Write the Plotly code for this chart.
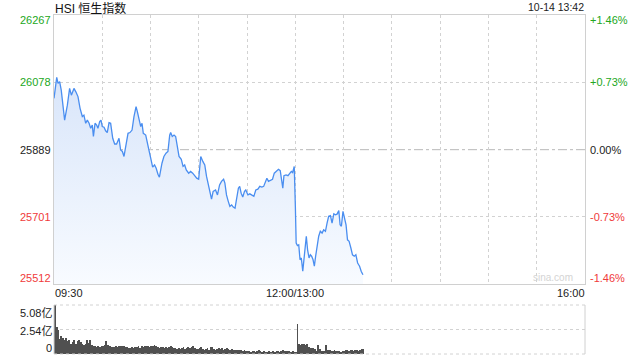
import plotly.graph_objects as go

# ---------------- data ----------------
prev_close = 25889
price_minutes = [
    0.0, 1.7, 2.5, 3.5, 4.5, 6.6, 8.3, 9.7, 10.8, 12.4, 13.5, 14.9, 16.2, 17.6, 18.6,
    19.7, 20.7, 21.8, 22.8, 23.8, 24.5, 25.5, 26.5, 27.3, 28.4, 29.2, 30.0, 31.1, 32.1,
    33.1, 34.2, 35.2, 36.5, 37.7, 38.9, 40.4, 41.4, 42.5, 43.5, 44.5, 46.0, 47.2, 48.5,
    49.7, 51.0, 51.8, 52.8, 53.9, 54.7, 55.5, 57.0, 58.0, 59.0, 60.1, 61.3, 62.5, 63.5,
    64.6, 65.5, 67.1, 68.3, 69.6, 70.8, 71.9, 72.5, 73.5, 74.6, 75.6, 76.6, 77.7, 79.1,
    80.2, 81.2, 82.2, 83.7, 84.9, 86.2, 87.4, 88.7, 89.9, 91.2, 92.5, 93.7, 94.8, 95.8,
    96.9, 97.9, 98.9, 100.4, 101.6, 102.9, 104.1, 105.4, 106.2, 107.2, 108.3, 109.3,
    110.4, 111.4, 112.5, 113.5, 114.6, 115.4, 116.3, 117.3, 118.4, 119.2, 120.5, 121.7,
    123.0, 124.2, 125.4, 126.7, 127.9, 129.2, 130.3, 131.3, 132.3, 133.3, 134.6, 135.8,
    136.9, 138.1, 139.5, 140.6, 141.3, 142.2, 142.9, 144.2, 145.4, 146.7, 147.5, 148.3,
    149.3, 150.0, 150.5, 151.3, 152.1, 152.9, 153.7, 154.6, 155.4, 156.2, 156.8, 157.6,
    158.5, 159.3, 160.1, 161.0, 161.8, 162.6, 163.5, 164.5, 165.5, 166.6, 167.6, 168.7,
    169.7, 170.7, 171.8, 172.8, 173.9, 174.9, 175.9, 177.0, 177.8, 178.6, 179.6, 180.7,
    181.5, 182.4, 183.4, 184.5, 185.5, 186.6, 187.6, 188.7, 189.9, 190.9, 192.0,
]
prices = [
    26033, 26092, 26075, 26080, 26056, 25972, 26014, 26061, 26042, 26061, 26052, 26038, 26005, 25982, 25986,
    25963, 25972, 25963, 25949, 25958, 25926, 25963, 25958, 25949, 25968, 25972, 25954, 25952, 25942,
    25937, 25965, 25963, 25921, 25905, 25905, 25921, 25888, 25884, 25870, 25898, 25935, 25937, 25944,
    25982, 26010, 25996, 25977, 25954, 25963, 25935, 25930, 25912, 25888, 25865, 25840, 25846, 25837,
    25820, 25812, 25851, 25870, 25879, 25884, 25930, 25937, 25926, 25930, 25926, 25898, 25870, 25862,
    25842, 25846, 25832, 25823, 25828, 25823, 25816, 25809, 25806, 25870, 25856, 25846, 25814, 25790,
    25772, 25750, 25772, 25776, 25762, 25790, 25800, 25806, 25795, 25762, 25744, 25730,
    25734, 25728, 25725, 25758, 25781, 25786, 25767, 25756, 25772, 25776, 25762, 25765,
    25762, 25758, 25776, 25778, 25786, 25784, 25786, 25800, 25809, 25800, 25804, 25806,
    25823, 25828, 25834, 25830, 25809, 25781, 25816, 25818, 25816, 25823, 25828, 25825,
    25842, 25730, 25627, 25620, 25622, 25580, 25585, 25548, 25580, 25618, 25646, 25608,
    25585, 25594, 25590, 25580, 25562, 25590, 25618, 25646, 25660, 25655, 25664, 25660,
    25683, 25702, 25704, 25683, 25709, 25706, 25708, 25718, 25678, 25674, 25716, 25688,
    25678, 25636, 25632, 25613, 25594, 25590, 25594, 25571, 25562, 25548, 25538,
]
volumes = [  # 亿
    5.08, 2.85, 2.44, 1.55, 1.82, 1.65, 1.48, 1.65, 1.30, 1.40, 1.07, 1.20, 1.48, 1.07, 1.30,
    1.48, 1.20, 1.07, 0.96, 1.03, 1.40, 1.13, 1.40, 0.96, 0.86, 0.79, 0.69, 0.79, 0.72, 0.86,
    0.79, 0.96, 1.30, 0.96, 0.79, 0.72, 0.69, 0.69, 0.79, 0.72, 0.86, 0.79, 0.86, 0.79, 0.69,
    0.69, 0.62, 0.62, 0.69, 0.62, 0.72, 0.69, 0.79, 0.62, 0.79, 0.72, 0.79, 0.86, 0.79, 0.69,
    0.86, 0.79, 0.96, 0.79, 0.69, 0.62, 0.72, 0.69, 0.58, 0.69, 0.62, 0.72, 0.86, 0.72, 0.62,
    0.58, 0.52, 0.62, 0.55, 0.62, 0.69, 0.52, 0.62, 0.69, 0.62, 0.69, 0.79, 0.58, 0.52, 0.52,
    0.58, 0.69, 0.52, 0.45, 0.52, 0.62, 0.45, 0.69, 0.76, 0.52, 0.45, 0.52, 0.62, 0.52, 0.58,
    0.45, 0.52, 0.58, 0.52, 0.45, 0.52, 0.45, 0.38, 0.45, 0.38, 0.45, 0.38, 0.27, 0.38, 0.27,
    0.34, 0.27, 0.24, 0.34, 0.27, 0.24, 0.31, 0.38, 0.27, 0.21, 0.27, 0.21, 0.24, 0.27, 0.21,
    0.24, 0.27, 0.21, 0.27, 0.31, 0.24, 0.31, 0.38, 0.27, 0.34, 0.27, 0.34, 0.24, 0.27, 0.21,
    0.17, 3.13, 1.07, 0.96, 1.03, 1.03, 0.96, 1.07, 0.69, 0.62, 0.62, 0.62, 0.52, 0.34, 0.96,
    0.52, 0.34, 0.34, 0.34, 0.96, 0.45, 0.38, 0.34, 0.34, 0.38, 0.27, 0.34, 0.27, 0.24, 0.27,
    0.34, 0.38, 0.45, 0.27, 0.38, 0.45, 0.34, 0.38, 0.45, 0.34, 0.45, 0.52, 0.52,
]
volume_minutes = list(range(len(volumes)))

price_ticks = [26267, 26078, 25889, 25701, 25512]
pct_labels = ["+1.46%", "+0.73%", "0.00%", "-0.73%", "-1.46%"]
label_colors = ["#22a722", "#22a722", "#222222", "#f03a3a", "#f03a3a"]
vol_ticks = [5.08, 2.54, 0]
vol_labels = ["5.08亿", "2.54亿", "0"]
x_tick_minutes = [0, 150, 330]
x_tick_labels = ["09:30", "12:00/13:00", "16:00"]
grid_minutes = [30, 60, 90, 120, 150, 180, 210, 240, 270, 300]
title_text = "HSI 恒生指数"
date_text = "10-14 13:42"

FONT = "Arial, 'Liberation Sans', 'Noto Sans CJK SC', sans-serif"
GRID = "#d2d2d2"
BORDER = "#d0d0d0"

fig = go.Figure()
fig.add_trace(go.Scatter(
    x=price_minutes, y=prices, mode="lines",
    line=dict(color="#4a8ef0", width=1.3),
    fill="tozeroy",
    fillgradient=dict(type="vertical", start=price_ticks[-1], stop=26100,
                      colorscale=[[0, "#f8fbff"], [1, "#d8e5fa"]]),
    xaxis="x", yaxis="y", hoverinfo="skip", showlegend=False,
))
fig.add_trace(go.Bar(
    x=volume_minutes, y=volumes, width=0.55,
    marker=dict(color="#505050", line=dict(width=0)),
    xaxis="x2", yaxis="y2", hoverinfo="skip", showlegend=False,
))

fig.update_layout(
    width=640, height=360,
    margin=dict(l=54, r=55, t=15, b=6),
    paper_bgcolor="white", plot_bgcolor="white",
    font=dict(family=FONT, size=11, color="#222"),
    xaxis=dict(domain=[0, 1], range=[0, 330], anchor="y",
               tickvals=grid_minutes, showticklabels=False, ticks="",
               showgrid=True, gridcolor=GRID, griddash="dot", gridwidth=1,
               showline=True, mirror=True, linecolor=BORDER, linewidth=1,
               zeroline=False, fixedrange=True),
    yaxis=dict(domain=[0.2065, 1], range=[price_ticks[-1], price_ticks[0]], anchor="x",
               tickvals=[price_ticks[1], price_ticks[3]], showticklabels=False, ticks="",
               showgrid=True, gridcolor=GRID, griddash="dot", gridwidth=1,
               showline=True, mirror=True, linecolor=BORDER, linewidth=1,
               zeroline=False, fixedrange=True),
    xaxis2=dict(domain=[0, 1], range=[-0.6, 330], anchor="y2",
                showticklabels=False, ticks="", showgrid=False,
                showline=False, zeroline=False, fixedrange=True),
    yaxis2=dict(domain=[0, 0.1445], range=[0, vol_ticks[0]], anchor="x2",
                tickvals=[vol_ticks[1]], showticklabels=False, ticks="",
                showgrid=True, gridcolor=GRID, griddash="dot", gridwidth=1,
                showline=False, zeroline=False, fixedrange=True),
    bargap=0,
)

shapes = [
    # previous-close reference line
    dict(type="line", xref="x domain", yref="y", x0=0, x1=1, y0=prev_close, y1=prev_close,
         line=dict(color="#b8b8b8", width=1, dash="dashdot"), layer="below"),
    # volume panel frame
    dict(type="line", xref="x2 domain", yref="y2 domain", x0=0, x1=1, y0=1, y1=1,
         line=dict(color=GRID, width=1, dash="dot")),
    dict(type="line", xref="x2 domain", yref="y2 domain", x0=0, x1=1, y0=0, y1=0,
         line=dict(color=GRID, width=1, dash="dot")),
    dict(type="line", xref="x2 domain", yref="y2 domain", x0=0, x1=0, y0=0, y1=1,
         line=dict(color=BORDER, width=1)),
    dict(type="line", xref="x2 domain", yref="y2 domain", x0=1, x1=1, y0=0, y1=1,
         line=dict(color=BORDER, width=1)),
]
fig.update_layout(shapes=shapes)

ann = []
ann.append(dict(text=title_text, xref="paper", yref="paper", x=0, y=1, xanchor="left",
                yanchor="middle", xshift=-1, yshift=7, showarrow=False,
                font=dict(size=12, color="#111")))
ann.append(dict(text=date_text, xref="paper", yref="paper", x=1, y=1, xanchor="right",
                yanchor="middle", xshift=1, yshift=8, showarrow=False,
                font=dict(size=10.5, color="#222")))
shifts = [-5, 0, 0, 0, 6]
for v, pl, c, s in zip(price_ticks, pct_labels, label_colors, shifts):
    ann.append(dict(text=str(v), xref="paper", yref="y", x=0, y=v, xanchor="right",
                    yanchor="middle", xshift=-1, yshift=s, showarrow=False,
                    font=dict(size=11, color=c)))
    ann.append(dict(text=pl, xref="paper", yref="y", x=1, y=v, xanchor="left",
                    yanchor="middle", xshift=3, yshift=s, showarrow=False,
                    font=dict(size=11, color=c)))
anchors = ["left", "center", "right"]
xshifts = [-1, 0, 2]
for m, t, a, xs in zip(x_tick_minutes, x_tick_labels, anchors, xshifts):
    ann.append(dict(text=t, xref="x", yref="y domain", x=m, y=0, xanchor=a,
                    yanchor="middle", xshift=xs, yshift=-9, showarrow=False,
                    font=dict(size=11, color="#222")))
vshifts = [-8, -1.5, 6]
for v, t, s in zip(vol_ticks, vol_labels, vshifts):
    ann.append(dict(text=t, xref="paper", yref="y2", x=0, y=v, xanchor="right",
                    yanchor="middle", xshift=0, yshift=s, showarrow=False,
                    font=dict(size=11, color="#222")))
ann.append(dict(text="sina.com", xref="paper", yref="y domain", x=1, y=0, xanchor="right",
                yanchor="middle", xshift=-10, yshift=6, showarrow=False,
                font=dict(size=10, color="#d4d4d4")))
fig.update_layout(annotations=ann)

fig.write_html("out.html")
